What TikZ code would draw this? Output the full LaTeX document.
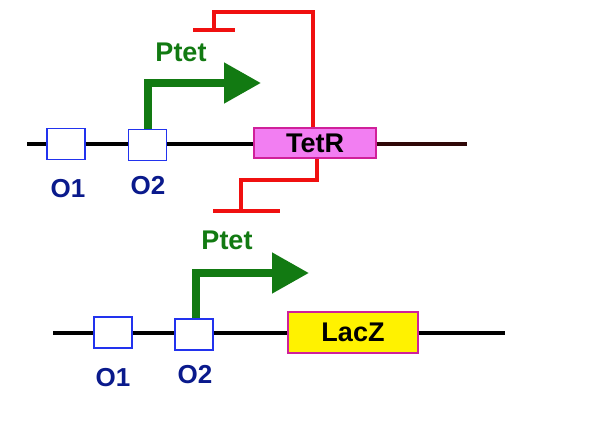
\documentclass[tikz,border=0pt]{standalone}
\usepackage{fontspec}
\setmainfont{Liberation Sans}
\usetikzlibrary{arrows.meta}
\definecolor{opblue}{HTML}{2233EE}
\definecolor{navy}{HTML}{0A1A8C}
\definecolor{pgreen}{HTML}{127A12}
\definecolor{rred}{HTML}{F01010}
\definecolor{tetfill}{HTML}{F27EF2}
\definecolor{tetedge}{HTML}{D0209A}
\definecolor{dna}{HTML}{000000}
\definecolor{dnab}{HTML}{300808}
\tikzset{
  opbox/.style={draw=opblue, line width=1.6pt, fill=white, minimum width=38pt, minimum height=31pt, inner sep=0pt},
  oplabel/.style={text=navy, font=\fontsize{26}{28}\selectfont\bfseries, inner sep=0pt},
  plabel/.style={text=pgreen, font=\fontsize{27}{29}\selectfont\bfseries, inner sep=0pt},
  genebox/.style={line width=1.4pt, inner sep=0pt, font=\fontsize{27}{29}\selectfont\bfseries},
  dnaline/.style={line width=3.5pt, draw=dna},
  promoter/.style={draw=pgreen, line width=8pt, -{Triangle[width=39pt,length=37pt]}},
  repress/.style={draw=rred, line width=3.5pt},
}
\begin{document}
\begin{tikzpicture}[x=1pt, y=-1pt]
\useasboundingbox (0,0) rectangle (590,442);
% ---------- top construct ----------
\node[opbox] (O1a) at (66,144) {};
\node[opbox] (O2a) at (147.5,145) {};
\node[genebox, draw=tetedge, fill=tetfill, minimum width=122pt, minimum height=30pt] (TetR) at (315,143) {TetR};
\coordinate (La) at (27,144);
\coordinate (Ra) at (467,144);
\draw[dnaline] (La) -- (La -| O1a.west);
\draw[dnaline] (La -| O1a.east) -- (La -| O2a.west);
\draw[dnaline] (La -| O2a.east) -- (La -| TetR.west);
\draw[dnaline, draw=dnab] (La -| TetR.east) -- (Ra);
\node[oplabel] (t1a) at (68,189) {O1};
\node[oplabel] (t2a) at (148,186) {O2};
\node[plabel] (pa) at (181,52) {Ptet};
\coordinate (Pa) at (261,83);
\draw[promoter] (O2a.north) |- (Pa);
% repression lines
\coordinate (topT) at (214,30);
\coordinate (botT) at (241,211);
\draw[repress] ([xshift=-2pt]TetR.north) -- ([xshift=-2pt]TetR.north |- 0,12) -| (topT);
\draw[repress] ([xshift=-21pt]topT) -- ([xshift=21pt]topT);
\draw[repress] ([xshift=2pt]TetR.south) -- ([xshift=2pt]TetR.south |- 0,180) -| (botT);
\draw[repress] ([xshift=-28pt]botT) -- ([xshift=39pt]botT);
% ---------- bottom construct ----------
\node[opbox] (O1b) at (113,332.5) {};
\node[opbox] (O2b) at (194,334.5) {};
\node[genebox, draw=tetedge, fill=yellow, minimum width=130pt, minimum height=41pt] (LacZ) at (353,332.5) {LacZ};
\coordinate (Lb) at (53,333);
\coordinate (Rb) at (505,333);
\draw[dnaline] (Lb) -- (Lb -| O1b.west);
\draw[dnaline] (Lb -| O1b.east) -- (Lb -| O2b.west);
\draw[dnaline] (Lb -| O2b.east) -- (Lb -| LacZ.west);
\draw[dnaline] (Lb -| LacZ.east) -- (Rb);
\node[oplabel] (t1b) at (113,378) {O1};
\node[oplabel] (t2b) at (195,375) {O2};
\node[plabel] (pb) at (227,240) {Ptet};
\coordinate (Pb) at (309,273);
\draw[promoter] ([xshift=2pt]O2b.north) |- (Pb);
\end{tikzpicture}
\end{document}
